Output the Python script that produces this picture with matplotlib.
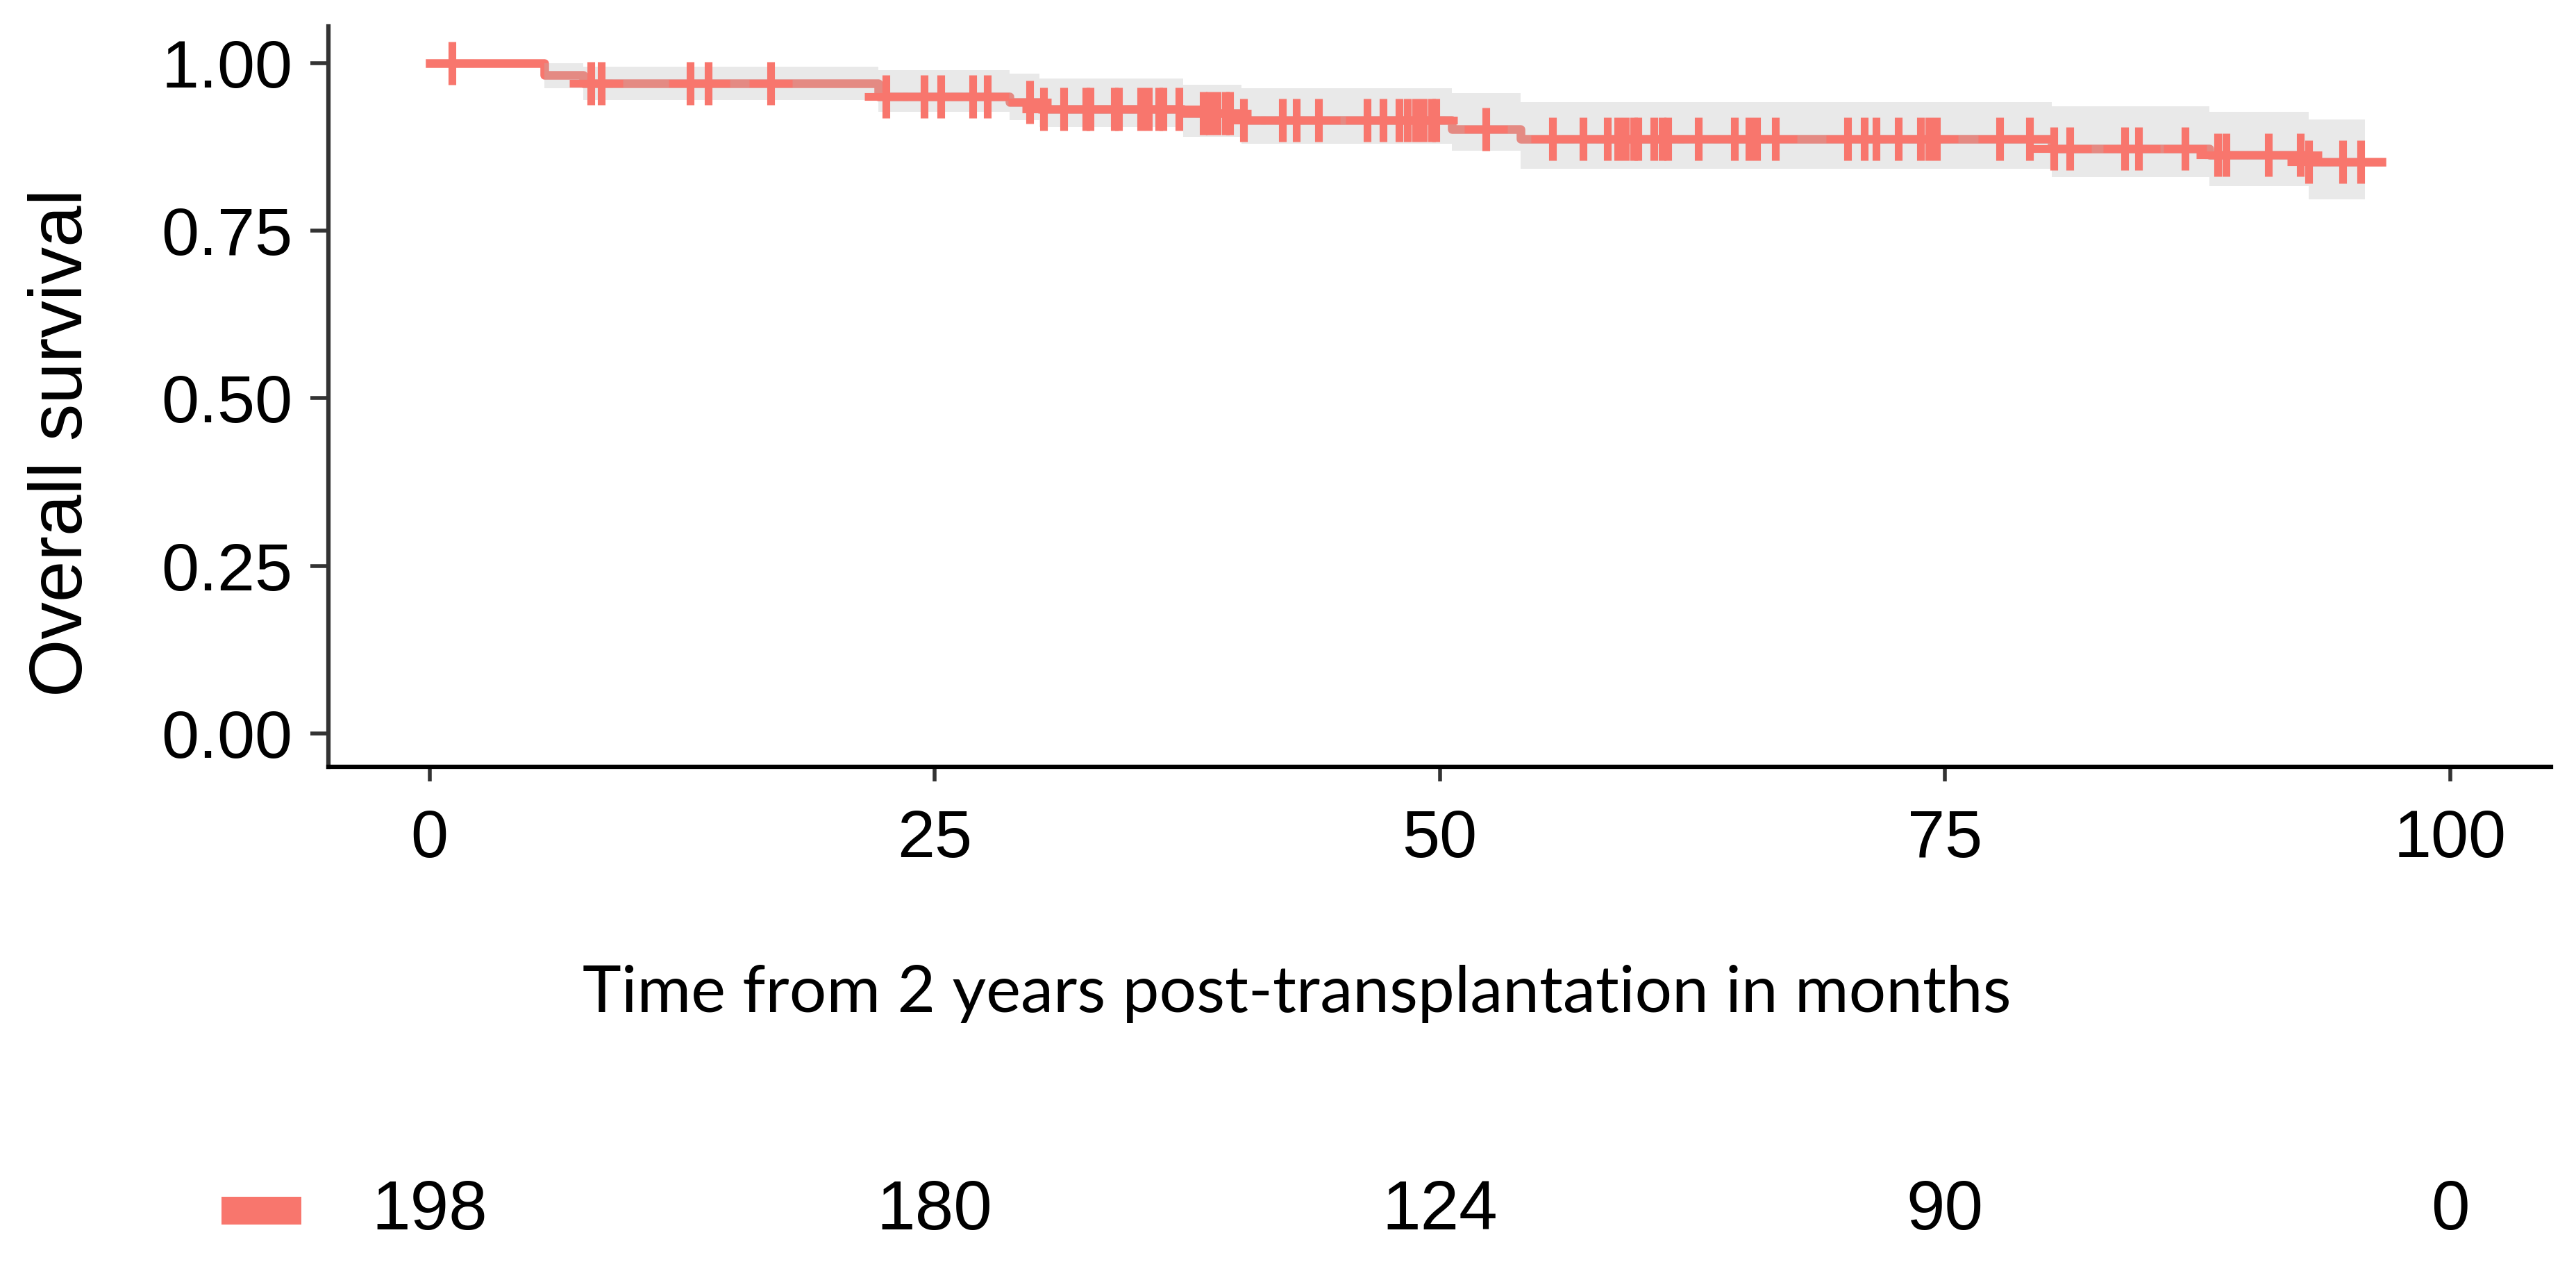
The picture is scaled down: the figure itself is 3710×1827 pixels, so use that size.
import numpy as np
import matplotlib
matplotlib.use("Agg")
import matplotlib.pyplot as plt
from matplotlib.patches import Rectangle
from matplotlib.ticker import FormatStrFormatter


########### data
# Kaplan-Meier steps (months, survival) and the confidence band per step
step_times = [0, 5.7, 7.6, 22.2, 28.7, 30.2, 37.3, 40.2, 50.6, 54.0, 80.3, 88.1, 93.0]
surv = [1.000, 0.982, 0.970, 0.950, 0.942, 0.932, 0.925, 0.915, 0.902, 0.887, 0.873, 0.863, 0.853]
ci_lower = [1.000, 0.963, 0.945, 0.928, 0.915, 0.905, 0.890, 0.880, 0.869, 0.843, 0.830, 0.817, 0.797]
ci_upper = [1.000, 1.000, 0.995, 0.990, 0.985, 0.977, 0.968, 0.963, 0.955, 0.942, 0.936, 0.928, 0.916]
last_time = 96.6
band_end = 95.8

# censored patients (the + marks)
censor_times = [1.1, 8.0, 8.5, 12.9, 13.8, 16.9,
                22.6, 24.5, 25.3, 26.9, 27.6, 29.7, 30.4, 31.4, 32.5, 32.7,
                33.9, 34.1, 35.2, 35.6, 36.1, 36.3, 37.1, 38.3, 38.6, 39.0,
                39.4, 39.6, 40.3, 42.2, 42.9, 44.0, 46.4, 47.2, 48.0, 48.4,
                48.8, 49.2, 49.6, 49.8, 52.3, 55.6, 57.1, 58.3, 58.8, 59.2,
                59.6, 59.8, 60.6, 61.0, 61.3, 62.8, 64.6, 65.3, 65.7, 66.6,
                70.2, 71.0, 71.6, 72.7, 73.8, 74.2, 74.6, 77.7, 79.2, 80.4,
                81.2, 83.9, 84.6, 86.9, 88.5, 88.9, 91.0, 92.6, 93.0, 94.7, 95.6]

# number at risk table
risk_times = [0, 25, 50, 75, 100]
n_risk = [198, 180, 124, 90, 0]

xticks = [0, 25, 50, 75, 100]
yticks = [0.00, 0.25, 0.50, 0.75, 1.00]
xlabel = "Time from 2 years post-transplantation in months"
ylabel = "Overall survival"

red = "#F8766D"
axcol = "#333333"


########### plot
fig = plt.figure(figsize=(37.1, 18.27), dpi=100)
ax = fig.add_axes([0.1275, 0.3957, 0.8628, 0.5835])

t_line = step_times + [last_time]
s_line = surv + [surv[-1]]
ax.step(t_line, s_line, where="post", color=red, lw=9, zorder=2)

# ribbon goes on top of the line, like survminer does
t_band = step_times + [band_end]
ax.fill_between(t_band, ci_lower + [ci_lower[-1]], ci_upper + [ci_upper[-1]],
                step="post", color="#b9b9b9", alpha=0.3, lw=0, zorder=3)

idx = np.searchsorted(step_times, censor_times, side="right") - 1
ax.plot(censor_times, np.array(surv)[idx], ls="none", marker="+",
        ms=45, mew=8, color=red, zorder=4)

ax.set_xlim(-5, 105)
ax.set_ylim(-0.05, 1.055)
ax.set_xticks(xticks)
ax.set_yticks(yticks)
ax.yaxis.set_major_formatter(FormatStrFormatter("%.2f"))

for s in ["top", "right"]:
    ax.spines[s].set_visible(False)
ax.spines["left"].set_linewidth(4.5)
ax.spines["left"].set_color(axcol)
ax.spines["bottom"].set_linewidth(4.5)
ax.spines["bottom"].set_color("black")

ax.tick_params(axis="y", length=19, width=4, color=axcol, pad=18, labelsize=70)
ax.tick_params(axis="x", length=15, width=4, color=axcol, pad=28, labelsize=70)
for lab in ax.get_xticklabels() + ax.get_yticklabels():
    lab.set_fontfamily("Liberation Sans")

fig.text(0.0243, 0.651, ylabel, rotation=90, ha="center", va="center",
         fontsize=77, family="Liberation Sans")
fig.text(0.5035, 0.2167, xlabel, ha="center", va="center",
         fontsize=68, family="Lato")

# risk table underneath
rax = fig.add_axes([0.1275, 0.0254, 0.8628, 0.04])
rax.set_xlim(-5, 105)
rax.set_ylim(0, 1)
rax.axis("off")
for t, n in zip(risk_times, n_risk):
    rax.text(t, 0.5, str(n), ha="center", va="center", fontsize=72,
             family="Liberation Sans")

fig.patches.append(Rectangle((0.086, 0.035), 0.031, 0.0219, transform=fig.transFigure,
                             facecolor=red, edgecolor="none"))

plt.savefig("out.png", dpi=100)
plt.close("all")
